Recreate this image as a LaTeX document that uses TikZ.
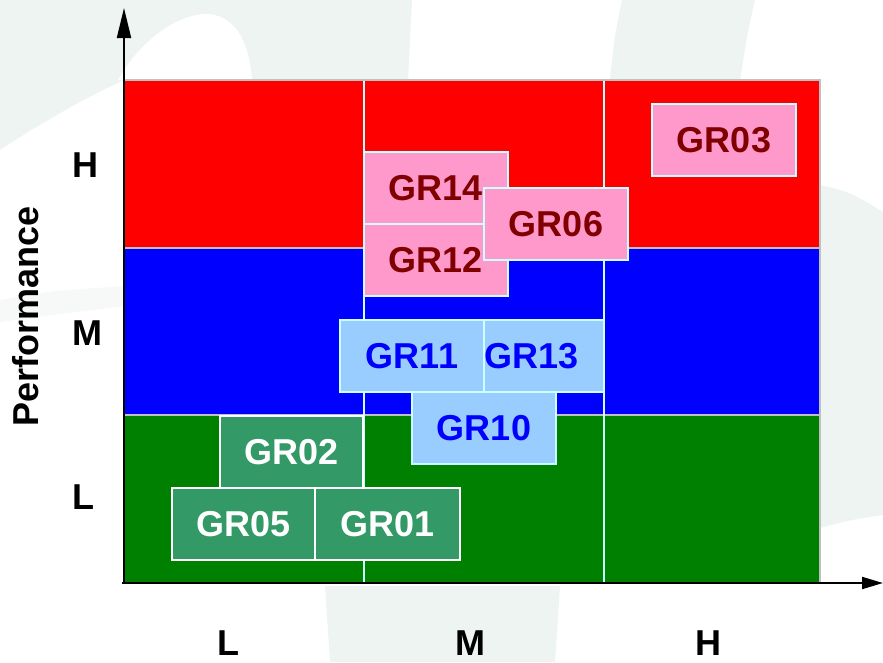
\documentclass[tikz,border=0pt]{standalone}
\usepackage{fontspec}
\setmainfont{Liberation Sans}
\usetikzlibrary{arrows.meta}

\definecolor{wm}{HTML}{EEF4F2}
\definecolor{cellred}{HTML}{FF0000}
\definecolor{cellblue}{HTML}{0000FF}
\definecolor{cellgreen}{HTML}{008000}
\definecolor{pinkfill}{HTML}{FF99CC}
\definecolor{bluefill}{HTML}{99CCFF}
\definecolor{greenfill}{HTML}{339966}
\definecolor{darkred}{HTML}{800000}
\definecolor{edgecyan}{HTML}{CCFFFF}
\definecolor{edgegrey}{HTML}{C0C0C0}

\newcommand{\lblfont}{\fontsize{36}{40}\selectfont\bfseries}

\begin{document}
\begin{tikzpicture}[x=1pt,y=-1pt,
  grbox/.style={draw, line width=1.8pt, inner sep=0pt, outer sep=0pt,
    minimum width=144pt, minimum height=72pt, anchor=north west,
    font=\lblfont},
  pinkbox/.style={grbox, fill=pinkfill, draw=edgecyan, text=darkred},
  bluebox/.style={grbox, fill=bluefill, draw=edgecyan, text=cellblue},
  greenbox/.style={grbox, fill=greenfill, draw=white, text=white},
  axislabel/.style={font=\lblfont, text=black, inner sep=0pt},
  axisline/.style={line width=2pt, draw=black}]

\useasboundingbox (0,0) rectangle (883,662);
\fill[white] (0,0) rectangle (883,662);

% faint watermark leaves behind the chart
\fill[wm] (0,0) -- (412,0) -- (408,80) -- (124,80)
  .. controls (80,100) and (30,130) .. (0,150) -- cycle;
\fill[white] (118,80) .. controls (140,40) and (180,12) .. (210,14)
  .. controls (240,18) and (250,50) .. (252,80) -- cycle;
\fill[wm] (622,0) -- (755,0) .. controls (748,30) .. (740,80) -- (610,80)
  .. controls (614,40) .. (622,0) -- cycle;
\fill[wm] (820,185) .. controls (850,192) .. (883,212) -- (883,515)
  .. controls (850,520) .. (820,528) -- cycle;
\fill[wm] (325,586) -- (560,586) -- (555,662) -- (330,662) -- cycle;
\fill[wm, opacity=0.5] (0,300) .. controls (40,292) .. (124,286) -- (124,306)
  .. controls (60,314) .. (0,322) -- cycle;

% performance bands
\fill[cellred]   (124,80)  rectangle (820,248);
\fill[cellblue]  (124,248) rectangle (820,415);
\fill[cellgreen] (124,415) rectangle (820,583);
\draw[edgegrey, line width=1.5pt] (124,248) -- (820,248);
\draw[edgegrey, line width=1.5pt] (124,415) -- (820,415);
\draw[edgecyan, line width=1.5pt] (364,80) -- (364,583);
\draw[edgecyan, line width=1.5pt] (604,80) -- (604,583);
\draw[edgegrey, line width=2pt] (124,80) -- (820,80) -- (820,583);

% group boxes
\node[pinkbox] (gr03) at (652,104) {GR03};
\node[pinkbox] (gr14) at (364,152) {GR14};
\node[pinkbox] (gr12) at (364,224) {GR12};
\node[pinkbox] (gr06) at (484,188) {GR06};
\node[bluebox] (gr11) at (340,320) {GR11};
\node[bluebox, minimum width=120pt] (gr13) at (484,320) {\hspace*{-25pt}GR13};
\node[bluebox] (gr10) at (412,392) {GR10};
\node[greenbox, minimum width=143pt] (gr02) at (220,416) {GR02};
\node[greenbox, minimum width=143pt] (gr05) at (172,488) {GR05};
\node[greenbox, minimum width=145pt] (gr01) at (315,488) {GR01};

% axes
\coordinate (origin) at (124,584);
\coordinate (ytip) at (124,8);
\coordinate (xtip) at (883,583);
\draw[axisline, -{Triangle[length=30pt,width=14pt]}] (origin) -- (ytip);
\draw[axisline, -{Triangle[length=21pt,width=12pt]}] (122,583) -- (xtip);

% axis labels
\node[axislabel] (yh) at (85,165) {H};
\node[axislabel] (ym) at (87,333) {M};
\node[axislabel] (yl) at (83,497) {L};
\node[axislabel] (xl) at (228,643) {L};
\node[axislabel] (xm) at (470,643) {M};
\node[axislabel] (xh) at (708,643) {H};
\node[axislabel, rotate=90] (perf) at (26,316) {Performance};
\end{tikzpicture}
\end{document}
